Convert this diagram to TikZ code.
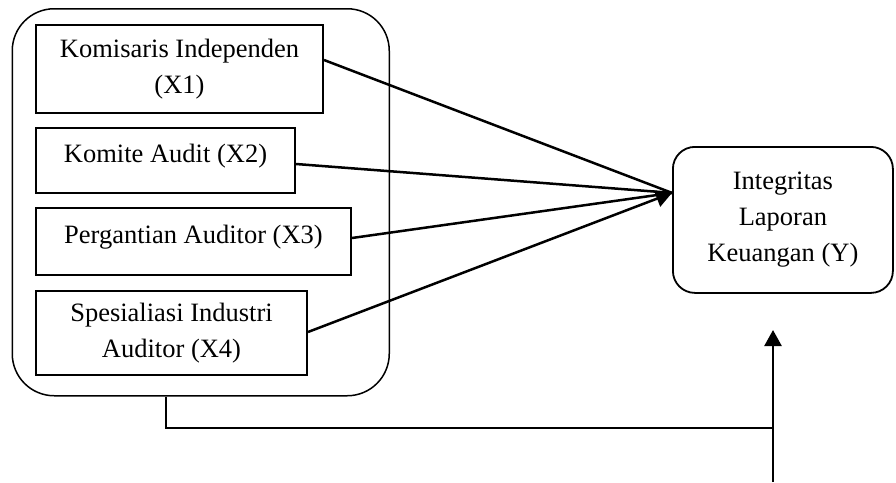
\documentclass[tikz,border=0pt]{standalone}
\usepackage{fontspec}
\setmainfont{Liberation Serif}
\usetikzlibrary{arrows.meta,calc}
\begin{document}
\begin{tikzpicture}[x=1pt,y=-1pt,
  every node/.style={font=\fontsize{26.5}{36}\selectfont, align=center, inner sep=0pt},
  varbox/.style={draw, line width=2pt, anchor=north west},
  groupbox/.style={draw, line width=1.5pt, rounded corners=42pt},
  ybox/.style={draw, line width=1.8pt, rounded corners=22pt, anchor=north west},
  link/.style={line width=2.5pt},
  tip/.style={-{Triangle[length=16pt,width=17pt]}}]
\useasboundingbox (0,0) rectangle (896,482);
\node[groupbox, minimum width=377pt, minimum height=387pt, anchor=north west] (grp) at (11.5,8) {};
\node[varbox, minimum width=287pt, minimum height=88pt] (b1) at (35,24) {Komisaris Independen\\(X1)};
\node[varbox, minimum width=259pt, minimum height=65pt, text depth=14pt] (b2) at (35,127) {Komite Audit (X2)};
\node[varbox, minimum width=315pt, minimum height=67pt, text depth=14pt] (b3) at (35,207) {Pergantian Auditor (X3)};
\node[varbox, minimum width=271pt, minimum height=84pt] (b4) at (35,290) {Spesialiasi Industri\\Auditor (X4)};
\node[ybox, minimum width=220pt, minimum height=146pt] (y) at (672,146) {Integritas\\Laporan\\Keuangan (Y)};
\coordinate (t) at ([yshift=27pt]y.west);
\draw[link] ([yshift=9pt]b1.east) -- (t);
\draw[link] ([yshift=-3.5pt]b2.east) -- (t);
\draw[link] ([yshift=3.5pt]b3.east) -- (t);
\draw[link, tip] ([yshift=1pt]b4.east) -- (t);
\coordinate (gs) at ([xshift=-35pt]grp.south);
\coordinate (bot) at (773,482);
\coordinate (up) at (773,330);
\draw[line width=1.5pt] (gs) -- (gs |- 0,428) -- (bot |- 0,428);
\draw[line width=2.5pt, tip] (bot) -- (up);
\end{tikzpicture}
\end{document}
